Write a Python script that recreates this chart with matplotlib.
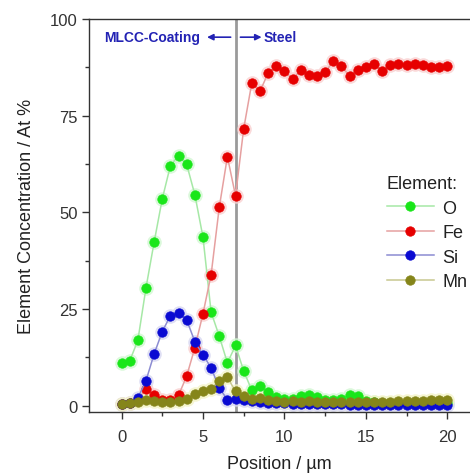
import numpy as np
import matplotlib
matplotlib.use("Agg")
import matplotlib.pyplot as plt
from matplotlib.ticker import MultipleLocator

plt.rcParams['font.family'] = ['Liberation Sans', 'DejaVu Sans']

# Line-scan positions (µm) and atomic concentrations (at %)
position = np.arange(41) * 0.5

conc_O = [11.1, 11.6, 16.9, 30.5, 42.3, 53.5, 62.1, 64.7, 62.4, 54.6,
          43.6, 24.2, 18.0, 11.1, 15.6, 9.0, 4.0, 5.2, 3.5, 2.2,
          1.8, 1.8, 2.5, 2.8, 2.2, 1.6, 1.4, 1.8, 2.9, 2.5,
          1.2, 0.9, 0.8, 0.8, 0.8, 0.8, 0.8, 0.8, 0.8, 0.8, 0.8]
conc_Fe = [0.5, 0.8, 1.5, 4.4, 2.7, 1.6, 1.4, 2.7, 7.7, 15.0,
           23.8, 33.9, 51.3, 64.4, 54.3, 71.6, 83.5, 81.3, 86.0, 87.8,
           86.5, 84.5, 86.7, 85.6, 85.3, 86.2, 89.1, 87.8, 85.3, 86.9,
           87.5, 88.4, 86.6, 88.1, 88.4, 88.1, 88.4, 88.1, 87.5, 87.7, 87.9]
conc_Si = [0.5, 0.8, 2.0, 6.5, 13.4, 19.2, 23.3, 24.0, 22.2, 16.6,
           13.2, 9.8, 4.6, 1.6, 1.8, 1.4, 1.2, 1.0, 0.8, 0.7,
           0.6, 0.5, 0.5, 0.5, 0.5, 0.4, 0.4, 0.4, 0.2, 0.3,
           0.3, 0.3, 0.3, 0.3, 0.3, 0.3, 0.3, 0.3, 0.3, 0.3, 0.3]
conc_Mn = [0.5, 0.8, 0.95, 1.4, 1.2, 0.95, 0.95, 1.2, 1.8, 3.1,
           3.8, 4.4, 6.5, 7.4, 3.7, 2.5, 1.8, 1.9, 1.4, 1.2,
           1.1, 1.2, 1.1, 1.2, 1.1, 1.0, 1.1, 1.0, 1.0, 0.9,
           0.9, 1.0, 1.1, 1.1, 1.2, 1.2, 1.3, 1.3, 1.4, 1.4, 1.4]

elements = ['O', 'Fe', 'Si', 'Mn']
series = [conc_O, conc_Fe, conc_Si, conc_Mn]
face_colors = ['#19e619', '#e60000', '#0a0ad2', '#85851a']
line_colors = ['#a6e8a6', '#e6a0a0', '#8c8cd2', '#c8c890']
halo_colors = ['#d2f7d2', '#f9d0d0', '#d8d8f2', '#f4f4c8']

interface = 7.0
label_blue = '#2323b4'

fig = plt.figure(figsize=(4.70, 4.77), dpi=100)
ax = fig.add_axes([89 / 470, 64 / 477, 381 / 470, 393 / 477])

handles = []
for name, vals, fc, lc, hc in zip(elements, series, face_colors,
                                  line_colors, halo_colors):
    ax.plot(position, vals, linestyle='none', marker='o', markersize=10.5,
            markerfacecolor=hc, markeredgecolor='none', alpha=0.8, zorder=2)
    h, = ax.plot(position, vals, color=lc, lw=1.1, marker='o',
                 markersize=6.8, markerfacecolor=fc, markeredgecolor=fc,
                 markeredgewidth=0.5, zorder=3, label=name)
    handles.append(h)

ax.axvline(interface, color='#9a9a9a', lw=2.0, zorder=1)

ax.set_xlim(-2.0, 21.4)
ax.set_ylim(-1.6, 100)
ax.xaxis.set_major_locator(MultipleLocator(5))
ax.xaxis.set_minor_locator(MultipleLocator(2.5))
ax.yaxis.set_major_locator(MultipleLocator(25))
ax.yaxis.set_minor_locator(MultipleLocator(12.5))
ax.tick_params(which='both', direction='out', colors='#333333',
               labelsize=12, width=1.0)
ax.tick_params(which='major', length=5)
ax.tick_params(which='minor', length=3)
ax.tick_params(axis='x', which='major', pad=7)
ax.tick_params(axis='y', which='major', pad=3)
ax.spines['right'].set_visible(False)
for s in ['left', 'bottom', 'top']:
    ax.spines[s].set_color('#333333')
    ax.spines[s].set_linewidth(1.0)

ax.set_xlabel('Position / \u00b5m', fontsize=13, color='#222222', labelpad=8)
ax.set_ylabel('Element Concentration / At %', fontsize=13,
              color='#222222', labelpad=11)

# Region annotations on either side of the interface
ax.text(interface - 2.15, 95.3, 'MLCC-Coating', ha='right', va='center',
        fontsize=10, fontweight='bold', color=label_blue)
ax.annotate('', xy=(interface - 1.75, 95.3), xytext=(interface - 0.3, 95.3),
            arrowprops=dict(arrowstyle='-|>', color=label_blue, lw=1.2,
                            mutation_scale=9, shrinkA=0, shrinkB=0))
ax.annotate('', xy=(interface + 1.6, 95.3), xytext=(interface + 0.3, 95.3),
            arrowprops=dict(arrowstyle='-|>', color=label_blue, lw=1.2,
                            mutation_scale=9, shrinkA=0, shrinkB=0))
ax.text(interface + 1.7, 95.3, 'Steel', ha='left', va='center',
        fontsize=10, fontweight='bold', color=label_blue)

leg = ax.legend(handles=handles, title='Element:', loc='upper left',
                bbox_to_anchor=(387 / 470, 1 - 176 / 477),
                bbox_transform=fig.transFigure, frameon=False,
                fontsize=13, title_fontsize=13, handlelength=2.6,
                handletextpad=0.45, labelspacing=0.42, borderpad=0,
                borderaxespad=0)
leg._legend_box.align = 'left'
for t in leg.get_texts():
    t.set_color('#222222')
leg.get_title().set_color('#222222')

fig.savefig('out.png', dpi=100)
